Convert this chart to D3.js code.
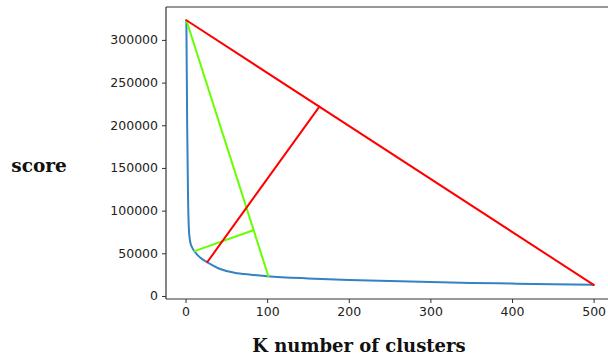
<!DOCTYPE html>
<html>
<head>
<meta charset="utf-8">
<script src="https://cdn.jsdelivr.net/npm/d3@7"></script>
<style>
  html, body { margin: 0; padding: 0; background: #fff; }
  svg { display: block; }
</style>
</head>
<body>
<svg id="chart" width="608" height="356"></svg>
<script>
// Elbow curve: clustering score against number of clusters K
const kValues = [1, 2, 3, 4, 5, 6, 8, 10, 12, 15, 20, 25, 30, 40, 50, 60, 80, 100, 150, 200, 250, 300, 350, 400, 450, 500];
const scores  = [323000, 200000, 120000, 80000, 68000, 62000, 57000, 53500, 51000, 47500, 43500, 40500, 37500, 32500, 29300, 27200, 24900, 23200, 20600, 18800, 17500, 16300, 15300, 14500, 13700, 13000];

// Chord across the whole curve and its perpendicular to the elbow
const redChordK = [1, 500];
const redChordScore = [323000, 13000];
const redPerpK = [26.5, 164];
const redPerpScore = [39500, 221800];

// Chord over the first 100 clusters and its perpendicular
const greenChordK = [1, 101.5];
const greenChordScore = [323000, 23100];
const greenPerpK = [11, 83];
const greenPerpScore = [52500, 77000];

const xTicks = [0, 100, 200, 300, 400, 500];
const yTicks = [0, 50000, 100000, 150000, 200000, 250000, 300000];

const svg = d3.select("#chart");
const plotLeft = 166, plotTop = 7, plotRight = 614, plotBottom = 299;

const x = d3.scaleLinear().domain([-23.95, 524.95]).range([plotLeft, plotRight]);
const y = d3.scaleLinear().domain([-3550, 338550]).range([plotBottom, plotTop]);

const axisColor = "#333";
const tickFont = "'DejaVu Sans', sans-serif";

// Axes
const xAxis = svg.append("g")
  .attr("transform", `translate(0,${plotBottom})`)
  .call(d3.axisBottom(x).tickValues(xTicks).tickSize(4).tickPadding(4).tickFormat(d3.format("d")));
const yAxis = svg.append("g")
  .attr("transform", `translate(${plotLeft},0)`)
  .call(d3.axisLeft(y).tickValues(yTicks).tickSize(4).tickPadding(4).tickFormat(d3.format("d")));

[xAxis, yAxis].forEach(g => {
  g.select(".domain").remove();
  g.selectAll(".tick line").attr("stroke", axisColor).attr("stroke-width", 1);
  g.selectAll(".tick text").attr("fill", "#222").style("font-family", tickFont).style("font-size", "12.5px");
});

// Spines
const spine = svg.append("g").attr("stroke", axisColor).attr("stroke-width", 1.2).attr("fill", "none");
spine.append("line").attr("x1", plotLeft).attr("x2", plotLeft).attr("y1", plotTop).attr("y2", plotBottom);
spine.append("line").attr("x1", plotLeft).attr("x2", plotRight).attr("y1", plotTop).attr("y2", plotTop);
spine.append("line").attr("x1", plotLeft).attr("x2", plotRight).attr("y1", plotBottom).attr("y2", plotBottom);
spine.append("line").attr("x1", plotRight).attr("x2", plotRight).attr("y1", plotTop).attr("y2", plotBottom);

const line = d3.line().x(d => x(d[0])).y(d => y(d[1]));
const smooth = d3.line().x(d => x(d[0])).y(d => y(d[1])).curve(d3.curveMonotoneX);
const zipPts = (ks, vs) => ks.map((k, i) => [k, vs[i]]);

const plot = svg.append("g").attr("fill", "none").attr("stroke-linecap", "round").attr("stroke-linejoin", "round");

plot.append("path")
  .attr("d", smooth(zipPts(kValues, scores)))
  .attr("stroke", "#3282c4").attr("stroke-width", 2);

plot.append("path")
  .attr("d", line(zipPts(greenChordK, greenChordScore)))
  .attr("stroke", "#66ff00").attr("stroke-width", 2);
plot.append("path")
  .attr("d", line(zipPts(greenPerpK, greenPerpScore)))
  .attr("stroke", "#66ff00").attr("stroke-width", 2);

plot.append("path")
  .attr("d", line(zipPts(redChordK, redChordScore)))
  .attr("stroke", "#ff0000").attr("stroke-width", 2);
plot.append("path")
  .attr("d", line(zipPts(redPerpK, redPerpScore)))
  .attr("stroke", "#ff0000").attr("stroke-width", 2);

// Axis titles
svg.append("text")
  .attr("x", 359).attr("y", 352)
  .attr("text-anchor", "middle")
  .style("font-family", "'DejaVu Serif', serif")
  .style("font-size", "18px")
  .style("font-weight", "bold")
  .attr("fill", "#111")
  .text("K number of clusters");

svg.append("text")
  .attr("x", 39).attr("y", 172)
  .attr("text-anchor", "middle")
  .style("font-family", "'DejaVu Serif', serif")
  .style("font-size", "18.5px")
  .style("font-weight", "bold")
  .attr("fill", "#111")
  .text("score");
</script>
</body>
</html>
